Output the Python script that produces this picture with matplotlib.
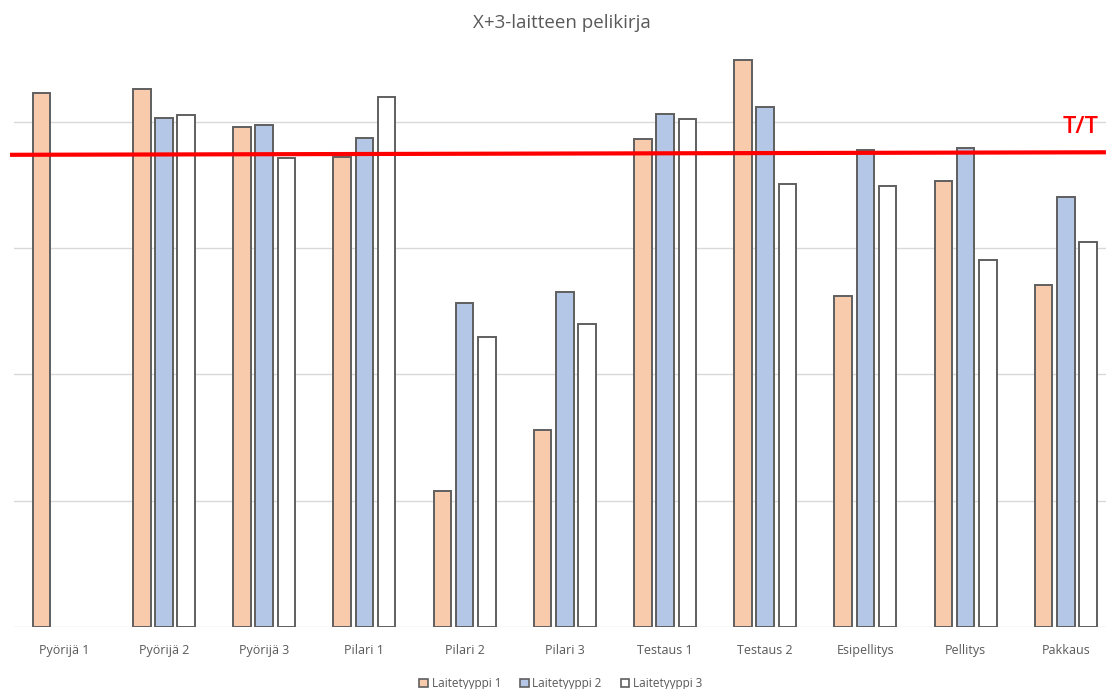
import numpy as np
import matplotlib
matplotlib.use("Agg")
import matplotlib.pyplot as plt
from matplotlib.patches import Patch

plt.rcParams['font.family'] = ['Open Sans', 'DejaVu Sans']

title = "X+3-laitteen pelikirja"
categories = ["Pyörijä 1", "Pyörijä 2", "Pyörijä 3", "Pilari 1", "Pilari 2",
              "Pilari 3", "Testaus 1", "Testaus 2", "Esipellitys", "Pellitys", "Pakkaus"]
series_names = ["Laitetyyppi 1", "Laitetyyppi 2", "Laitetyyppi 3"]
tyyppi1 = [84.6, 85.3, 79.2, 74.5, 21.6, 31.2, 77.3, 89.8, 52.4, 70.7, 54.1]
tyyppi2 = [np.nan, 80.7, 79.6, 77.4, 51.3, 53.1, 81.3, 82.3, 75.6, 75.8, 68.1]
tyyppi3 = [np.nan, 81.1, 74.3, 83.9, 45.9, 48.0, 80.5, 70.2, 69.9, 58.1, 61.0]
target = 75.0
target_label = "T/T"

colors = ["#F8CBAD", "#B4C7E7", "#FFFFFF"]
edge = "#5F5F5F"

fig = plt.figure(figsize=(11.06, 6.89), dpi=100)
ax = fig.add_axes([0.0124, 0.090, 0.9966, 0.8429])

x = np.arange(len(categories))
width = 0.175
step = 0.222
for i, (vals, c) in enumerate(zip([tyyppi1, tyyppi2, tyyppi3], colors)):
    ax.bar(x + (i - 1) * step, vals, width=width, color=c, edgecolor=edge,
           linewidth=1.4, zorder=3, label=series_names[i])

ax.set_xlim(-0.5, len(categories) - 0.5)
ax.set_ylim(0, 92)
ax.set_yticks([0, 20, 40, 60, 80])
ax.yaxis.grid(True, color="#D9D9D9", linewidth=1.0, zorder=0)
ax.tick_params(axis='y', left=False, labelleft=False)
ax.set_xticks(x)
ax.set_xticklabels(categories, fontsize=9, color="#595959")
ax.tick_params(axis='x', length=0, pad=12)
for s in ax.spines.values():
    s.set_visible(False)

# target line
ax.plot([-0.537, 10.40], [target - 0.2, target + 0.2], color="#FF0000",
        linewidth=3.0, zorder=5, clip_on=False, solid_capstyle='butt')
ax.text(9.97, target + 3.2, target_label, color="#FF0000", fontsize=17,
        fontweight='semibold', ha='left', va='baseline', clip_on=False, zorder=6)

fig.text(0.508, 0.966, title, ha='center', va='center', fontsize=13.5,
         color="#595959")

handles = [Patch(facecolor=c, edgecolor=edge, linewidth=1.2) for c in colors]
fig.legend(handles, series_names, loc='center', bbox_to_anchor=(0.507, 0.008),
           ncol=3, frameon=False, fontsize=8.5, handlelength=0.75,
           handleheight=0.75, handletextpad=0.3, columnspacing=1.6,
           labelcolor="#595959")

fig.savefig("out.png", dpi=100)
